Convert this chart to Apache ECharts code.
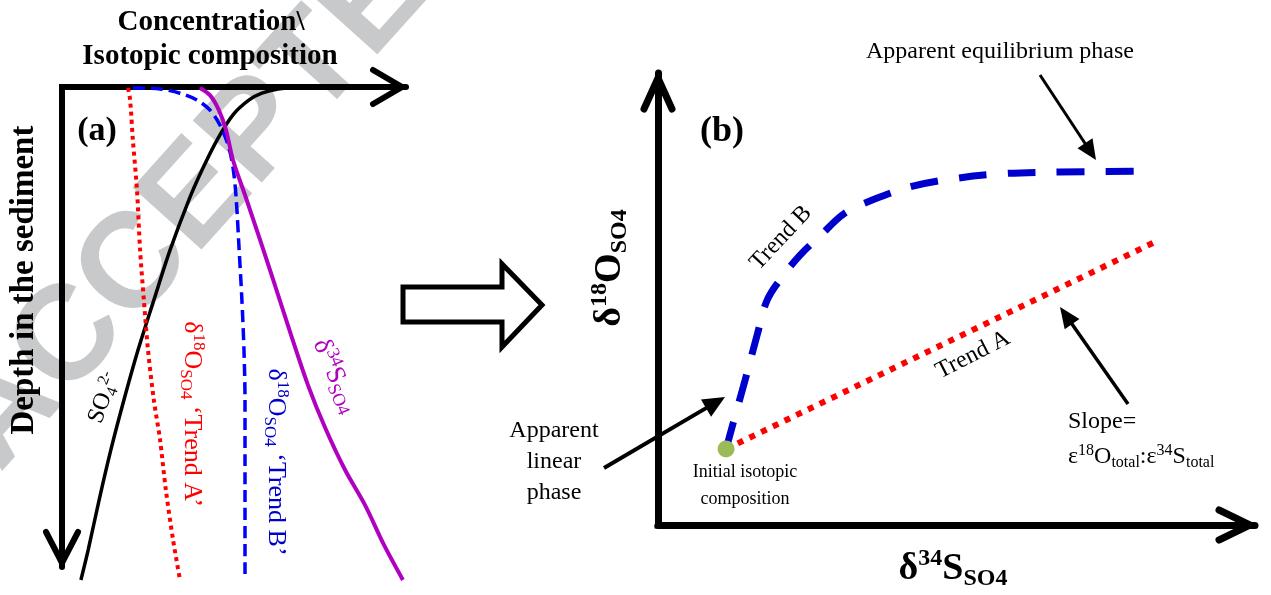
<!DOCTYPE html>
<html>
<head>
<meta charset="utf-8">
<script src="https://cdn.jsdelivr.net/npm/echarts@6/dist/echarts.min.js"></script>
<style>
  html, body { margin: 0; padding: 0; background: #fff; }
  #chart { width: 1271px; height: 595px; }
</style>
</head>
<body>
<div id="chart"></div>
<script>
// ---- Panel (a): pore-water depth profiles [concentration / isotopic value, depth] ----
const profileSO4 = [[69.2,0],[62.8,0.4],[58.1,1.3],[54.4,2.7],[49.7,5.8],[45.1,11.0],[40.7,17.3],[36.9,23.5],
  [31.4,34.0],[26.7,44.4],[22.1,54.8],[18.0,65.2],[14.2,75.6],[10.8,86.0],[7.6,96.5],[5.5,102.7]];
const profileO18TrendA = [[19.2,0.2],[19.8,2.7],[20.6,11.0],[21.8,21.5],[22.7,34.0],[23.8,44.4],[25.0,54.8],
  [26.7,65.2],[28.5,73.5],[30.2,84.0],[32.3,94.4],[34.3,102.7]];
const profileO18TrendB = [[20.6,0.2],[28.5,0.4],[34.3,1.3],[39.2,2.7],[43.0,4.8],[45.9,7.9],[48.3,12.1],
  [49.7,16.7],[50.6,22.9],[51.5,34.0],[52.3,44.4],[52.9,54.8],[53.2,65.2],[53.2,84.0],[53.2,102.7]];
const profileS34 = [[40.1,0.2],[43.0,1.7],[45.6,4.8],[47.7,9.0],[49.7,15.2],[53.2,22.5],[57.6,31.9],[61.9,41.3],
  [66.6,51.7],[71.5,62.1],[76.5,71.0],[82.3,79.8],[88.1,87.1],[93.6,95.4],[99.1,102.7]];

// ---- Panel (b): δ18O vs δ34S of sulfate [δ34S, δ18O] ----
const initialComposition = [[11.4,16.8]];
const trendA = [[11.4,16.8],[82.9,62.4]];
const trendB = [[11.4,16.8],[12.6,22.6],[14.6,32.1],[16.6,42.0],[18.3,49.8],[20.8,54.9],[23.8,59.7],[27.1,63.9],
  [31.3,69.0],[36.3,72.1],[42.2,74.8],[48.9,76.5],[57.3,77.7],[67.3,78.1],[82.6,78.3]];

const SERIF = "'Liberation Serif', 'Times New Roman', serif";
const SANS = "'Liberation Sans', Arial, sans-serif";

const chart = echarts.init(document.getElementById('chart'), null, { renderer: 'canvas' });

const axisBase = {
  type: 'value', min: 0, max: 100,
  axisTick: { show: false }, axisLabel: { show: false }, splitLine: { show: false }
};
const axisLineA = { show: true, onZero: false, lineStyle: { color: '#000', width: 6 } };
const axisLineB = { show: true, onZero: false, lineStyle: { color: '#000', width: 7 } };

function lineSeries(data, xi, color, width, type, extra) {
  return Object.assign({
    type: 'line', xAxisIndex: xi, yAxisIndex: xi, data: data,
    showSymbol: false, symbol: 'none', smooth: 0.3, clip: false, silent: true,
    lineStyle: { color: color, width: width, type: type, cap: 'butt' }
  }, extra || {});
}

chart.setOption({
  animation: false,
  backgroundColor: '#fff',
  grid: [
    { left: 62, top: 87, width: 344, height: 480 },
    { left: 658, top: 73, width: 597, height: 452 }
  ],
  xAxis: [
    Object.assign({}, axisBase, { gridIndex: 0, position: 'top', axisLine: axisLineA }),
    Object.assign({}, axisBase, { gridIndex: 1, position: 'bottom', axisLine: axisLineB })
  ],
  yAxis: [
    Object.assign({}, axisBase, { gridIndex: 0, inverse: true, axisLine: axisLineA }),
    Object.assign({}, axisBase, { gridIndex: 1, axisLine: axisLineB })
  ],
  series: [
    lineSeries(profileSO4, 0, '#000000', 3.5, 'solid'),
    lineSeries(profileO18TrendA, 0, '#ff0000', 4, [4, 4]),
    lineSeries(profileO18TrendB, 0, '#0000ff', 3.5, [12, 6]),
    lineSeries(profileS34, 0, '#b000c0', 4, 'solid'),
    lineSeries(trendA, 1, '#ff0000', 6, [6, 7], { smooth: false }),
    lineSeries(trendB, 1, '#0000cc', 7, [28, 21], { smooth: 0.35 }),
    {
      type: 'scatter', xAxisIndex: 1, yAxisIndex: 1, data: initialComposition,
      symbol: 'circle', symbolSize: 17, itemStyle: { color: '#9bbb59', opacity: 1 }, z: 5, silent: true
    }
  ]
});

const toPx = (g, p) => chart.convertToPixel({ gridIndex: g }, p);

function chevron(tip, dir, len, half, w) {
  const bx = tip[0] - dir[0] * len, by = tip[1] - dir[1] * len;
  const nx = -dir[1] * half, ny = dir[0] * half;
  return {
    type: 'polyline', z: 10,
    shape: { points: [[bx + nx, by + ny], [tip[0], tip[1]], [bx - nx, by - ny]] },
    style: { stroke: '#000', lineWidth: w, fill: null, lineJoin: 'miter', lineCap: 'round' }
  };
}

function arrow(x1, y1, x2, y2, w, headLen, headHalf) {
  const a = Math.atan2(y2 - y1, x2 - x1);
  const bx = x2 - headLen * Math.cos(a), by = y2 - headLen * Math.sin(a);
  const nx = -Math.sin(a) * headHalf, ny = Math.cos(a) * headHalf;
  return [
    { type: 'line', z: 10, shape: { x1: x1, y1: y1, x2: bx + Math.cos(a) * 2, y2: by + Math.sin(a) * 2 },
      style: { stroke: '#000', lineWidth: w } },
    { type: 'polygon', z: 10, shape: { points: [[x2, y2], [bx + nx, by + ny], [bx - nx, by - ny]] },
      style: { fill: '#000' } }
  ];
}

function richSet(F, f, weight, color) {
  const base = { fontFamily: SERIF, fontWeight: weight, fill: color, color: color };
  return {
    m: Object.assign({ fontSize: F, lineHeight: Math.round(F * 1.15) }, base),
    p: Object.assign({ fontSize: f, lineHeight: f, verticalAlign: 'top' }, base),
    b: Object.assign({ fontSize: f, lineHeight: f, verticalAlign: 'bottom' }, base)
  };
}

function richText(x, y, text, rich, rotDeg, align) {
  return {
    type: 'text', z: 10, x: x, y: y, rotation: (rotDeg || 0) * Math.PI / 180,
    style: { text: text, rich: rich, align: align || 'center', verticalAlign: 'middle' }
  };
}

function plainText(x, y, text, size, weight, color, rotDeg, lineHeight, align) {
  return {
    type: 'text', z: 10, x: x, y: y, rotation: (rotDeg || 0) * Math.PI / 180,
    style: {
      text: text, fontSize: size, fontFamily: SERIF, fontWeight: weight, fill: color,
      align: align || 'center', verticalAlign: 'middle', lineHeight: lineHeight || Math.round(size * 1.2)
    }
  };
}

const aOrigin = toPx(0, [0, 0]);
const aXEnd = toPx(0, [100, 0]);
const aYEnd = toPx(0, [0, 100]);
const bOrigin = toPx(1, [0, 0]);
const bXEnd = toPx(1, [100, 0]);
const bYEnd = toPx(1, [0, 100]);

const W = 135;
const elements = [
  // journal watermark lettering behind the figure
  {
    type: 'text', z: -1, x: 70, y: 340, rotation: 48 * Math.PI / 180,
    style: {
      text: 'ACCEPTED MANUSCRIPT', x: -1.083 * W, y: 0, fontSize: W, fontWeight: 'bold',
      fontFamily: SANS, fill: '#c8c9cb', align: 'left', verticalAlign: 'middle'
    }
  },
  // axis corners and arrow heads
  { type: 'rect', z: 10, shape: { x: aOrigin[0] - 3, y: aOrigin[1] - 3, width: 3, height: 3 }, style: { fill: '#000' } },
  { type: 'rect', z: 10, shape: { x: bOrigin[0] - 3.5, y: bOrigin[1], width: 3.5, height: 3.5 }, style: { fill: '#000' } },
  chevron([aXEnd[0] - 4, aXEnd[1]], [1, 0], 29, 17, 6),
  chevron([aYEnd[0], aYEnd[1] - 4], [0, 1], 31, 16, 6),
  chevron([bXEnd[0] - 5, bXEnd[1]], [1, 0], 31, 15, 7),
  chevron([bYEnd[0], bYEnd[1] + 5], [0, -1], 31, 14, 7),

  // panel (a) text
  plainText(211, 23, 'Concentration\\', 29, 'bold', '#000'),
  plainText(210, 57, 'Isotopic composition', 29, 'bold', '#000'),
  plainText(97, 131, '(a)', 34, 'bold', '#000'),
  plainText(24, 280, 'Depth in the sediment', 33, 'bold', '#000', 90),
  richText(104, 398, '{m|SO}{b|4}{p|2-}', richSet(24, 16, 'normal', '#000'), 70),
  richText(192, 414, '{m|δ}{p|18}{m|O}{b|SO4}{m| ‘Trend A’}', richSet(26, 17, 'normal', '#ff0000'), -90),
  richText(276, 462, '{m|δ}{p|18}{m|O}{b|SO4}{m| ‘Trend B’}', richSet(26, 17, 'normal', '#0000cc'), -90),
  richText(335, 376, '{m|δ}{p|34}{m|S}{b|SO4}', richSet(27, 18, 'normal', '#b000c0'), -67),

  // transition arrow between panels
  {
    type: 'polygon', z: 10,
    shape: { points: [[403, 287], [502, 287], [502, 264], [542, 305], [502, 347], [502, 322], [403, 322]] },
    style: { fill: '#fff', stroke: '#000', lineWidth: 5, lineJoin: 'miter' }
  },

  // panel (b) text
  plainText(722, 132, '(b)', 36, 'bold', '#000'),
  richText(610, 268, '{m|δ}{p|18}{m|O}{b|SO4}', richSet(38, 24, 'bold', '#000'), 90),
  richText(953, 569, '{m|δ}{p|34}{m|S}{b|SO4}', richSet(38, 24, 'bold', '#000'), 0),
  plainText(1000, 52, 'Apparent equilibrium phase', 24, 'normal', '#000'),
  plainText(781, 238, 'Trend B', 24, 'normal', '#000', 47),
  plainText(973, 355, 'Trend A', 24, 'normal', '#000', 27),
  plainText(554, 462, 'Apparent\nlinear\nphase', 24, 'normal', '#000', 0, 31),
  plainText(745, 486, 'Initial isotopic\ncomposition', 18, 'normal', '#000', 0, 27),
  plainText(1068, 422, 'Slope=', 24, 'normal', '#000', 0, 28, 'left'),
  richText(1068, 457, '{m|ε}{p|18}{m|O}{b|total}{m|:ε}{p|34}{m|S}{b|total}', richSet(24, 16, 'normal', '#000'), 0, 'left')
];

Array.prototype.push.apply(elements, arrow(1040, 75, 1096, 160, 3, 20, 9));
Array.prototype.push.apply(elements, arrow(604, 468, 725, 397, 4, 22, 10));
Array.prototype.push.apply(elements, arrow(1128, 404, 1060, 307, 3.5, 21, 9));

chart.setOption({ graphic: { elements: elements } });
</script>
</body>
</html>
